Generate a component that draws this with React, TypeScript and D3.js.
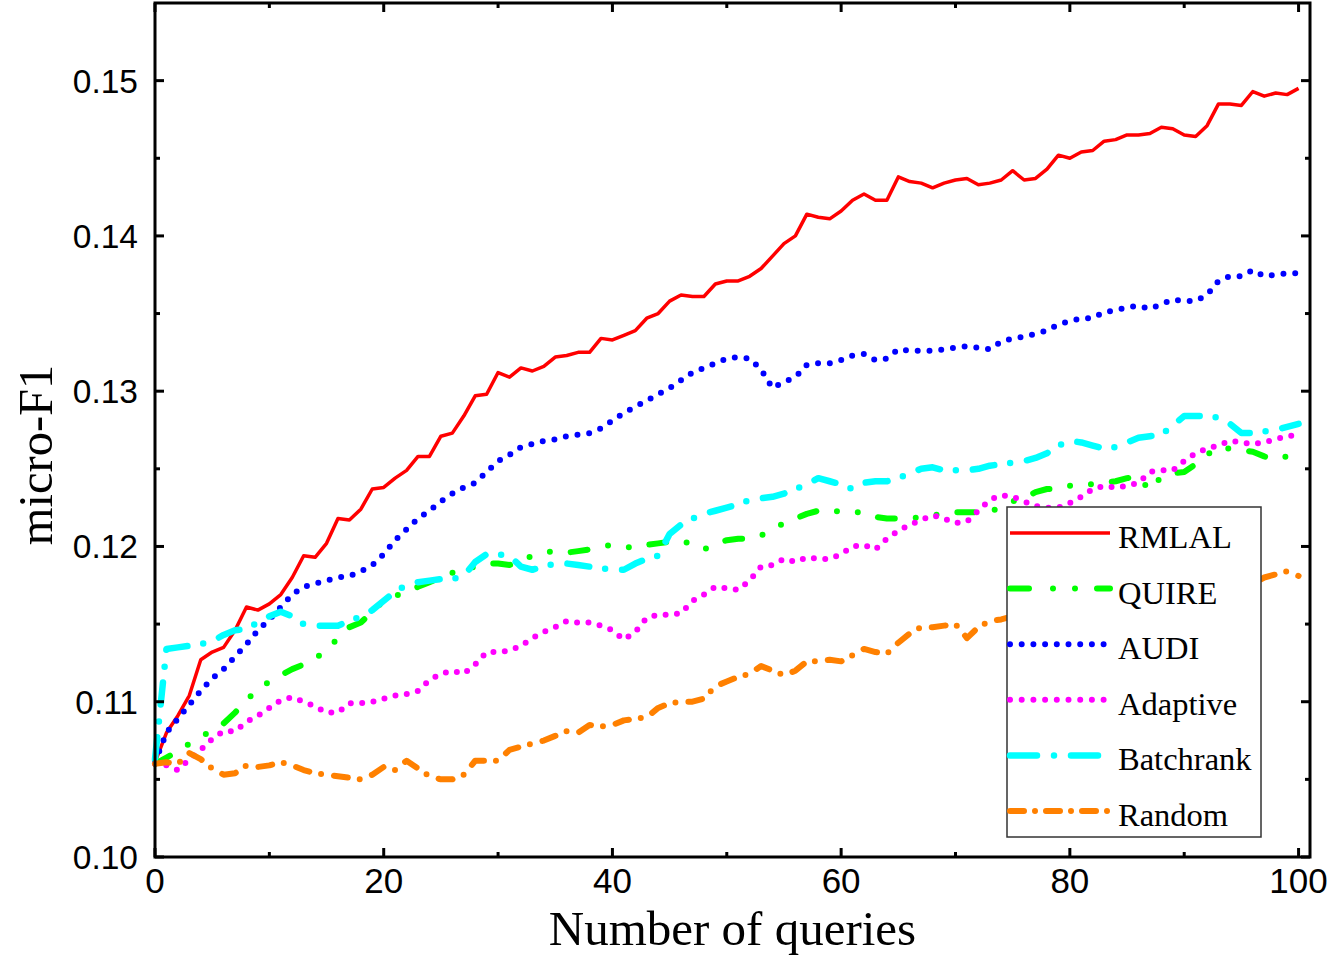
import React from "react";
import * as d3 from "d3";

const queries = d3.range(0, 101);

const rmlal = [0.1061,0.1080,0.1091,0.1104,0.1127,0.1132,0.1135,0.1146,0.1161,0.1159,0.1163,0.1169,0.1180,0.1194,0.1193,0.1202,0.1218,0.1217,0.1224,0.1237,0.1238,0.1244,0.1249,0.1258,0.1258,0.1271,0.1273,0.1284,0.1297,0.1298,0.1312,0.1309,0.1315,0.1313,0.1316,0.1322,0.1323,0.1325,0.1325,0.1334,0.1333,0.1336,0.1339,0.1347,0.1350,0.1358,0.1362,0.1361,0.1361,0.1369,0.1371,0.1371,0.1374,0.1379,0.1387,0.1395,0.1400,0.1414,0.1412,0.1411,0.1416,0.1423,0.1427,0.1423,0.1423,0.1438,0.1435,0.1434,0.1431,0.1434,0.1436,0.1437,0.1433,0.1434,0.1436,0.1442,0.1436,0.1437,0.1443,0.1452,0.1450,0.1454,0.1455,0.1461,0.1462,0.1465,0.1465,0.1466,0.1470,0.1469,0.1465,0.1464,0.1471,0.1485,0.1485,0.1484,0.1493,0.1490,0.1492,0.1491,0.1495];

const quire = [0.1060,0.1064,0.1068,0.1073,0.1077,0.1082,0.1086,0.1093,0.1101,0.1108,0.1113,0.1117,0.1121,0.1124,0.1128,0.1133,0.1141,0.1148,0.1151,0.1158,0.1165,0.1168,0.1171,0.1174,0.1177,0.1180,0.1183,0.1185,0.1187,0.1189,0.1189,0.1188,0.1191,0.1194,0.1196,0.1197,0.1196,0.1197,0.1198,0.1200,0.1201,0.1200,0.1199,0.1201,0.1202,0.1203,0.1204,0.1201,0.1198,0.1202,0.1204,0.1205,0.1205,0.1207,0.1211,0.1215,0.1218,0.1221,0.1223,0.1224,0.1222,0.1222,0.1222,0.1219,0.1218,0.1218,0.1218,0.1219,0.1220,0.1221,0.1222,0.1222,0.1222,0.1222,0.1226,0.1229,0.1231,0.1235,0.1237,0.1237,0.1239,0.1240,0.1240,0.1241,0.1242,0.1244,0.1245,0.1236,0.1245,0.1247,0.1248,0.1253,0.1259,0.1264,0.1263,0.1262,0.1261,0.1258,0.1256,0.1258,0.1257];

const audi = [0.1061,0.1080,0.1089,0.1098,0.1107,0.1115,0.1121,0.1129,0.1137,0.1146,0.1153,0.1161,0.1169,0.1174,0.1176,0.1178,0.1180,0.1181,0.1184,0.1188,0.1195,0.1204,0.1211,0.1218,0.1223,0.1229,0.1234,0.1238,0.1241,0.1248,0.1255,0.1259,0.1264,0.1266,0.1268,0.1269,0.1271,0.1272,0.1273,0.1276,0.1281,0.1286,0.1290,0.1294,0.1298,0.1302,0.1307,0.1312,0.1315,0.1318,0.1321,0.1322,0.1321,0.1314,0.1302,0.1306,0.1309,0.1317,0.1318,0.1318,0.1320,0.1323,0.1324,0.1320,0.1321,0.1327,0.1326,0.1326,0.1326,0.1327,0.1328,0.1329,0.1328,0.1327,0.1332,0.1334,0.1335,0.1337,0.1339,0.1343,0.1345,0.1347,0.1347,0.1351,0.1352,0.1354,0.1355,0.1353,0.1356,0.1359,0.1358,0.1358,0.1362,0.1371,0.1374,0.1374,0.1378,0.1374,0.1375,0.1376,0.1376];

const adaptive = [0.1060,0.1059,0.1056,0.1063,0.1069,0.1076,0.1081,0.1081,0.1087,0.1091,0.1096,0.1101,0.1103,0.1100,0.1097,0.1093,0.1093,0.1099,0.1099,0.1100,0.1102,0.1104,0.1105,0.1107,0.1114,0.1118,0.1120,0.1118,0.1124,0.1132,0.1132,0.1133,0.1136,0.1141,0.1145,0.1148,0.1152,0.1151,0.1151,0.1149,0.1146,0.1140,0.1145,0.1154,0.1156,0.1156,0.1157,0.1165,0.1169,0.1174,0.1173,0.1172,0.1178,0.1187,0.1188,0.1192,0.1190,0.1193,0.1192,0.1192,0.1195,0.1200,0.1201,0.1198,0.1205,0.1210,0.1214,0.1217,0.1220,0.1218,0.1215,0.1216,0.1223,0.1230,0.1233,0.1232,0.1229,0.1226,0.1225,0.1225,0.1228,0.1232,0.1237,0.1239,0.1238,0.1239,0.1241,0.1248,0.1249,0.1249,0.1255,0.1260,0.1263,0.1265,0.1268,0.1267,0.1266,0.1267,0.1269,0.1271,0.1272];

const batchrank = [0.1063,0.1134,0.1135,0.1136,0.1137,0.1139,0.1143,0.1146,0.1147,0.1151,0.1155,0.1158,0.1155,0.1150,0.1149,0.1149,0.1149,0.1152,0.1155,0.1159,0.1165,0.1171,0.1175,0.1177,0.1178,0.1179,0.1179,0.1181,0.1190,0.1195,0.1195,0.1194,0.1187,0.1185,0.1187,0.1189,0.1189,0.1188,0.1187,0.1186,0.1185,0.1185,0.1189,0.1192,0.1194,0.1208,0.1214,0.1218,0.1221,0.1223,0.1225,0.1227,0.1230,0.1231,0.1232,0.1234,0.1237,0.1240,0.1244,0.1242,0.1240,0.1237,0.1241,0.1242,0.1242,0.1244,0.1247,0.1250,0.1251,0.1249,0.1249,0.1249,0.1250,0.1252,0.1253,0.1254,0.1255,0.1257,0.1260,0.1265,0.1268,0.1267,0.1265,0.1263,0.1264,0.1267,0.1270,0.1271,0.1272,0.1278,0.1284,0.1284,0.1284,0.1283,0.1279,0.1273,0.1273,0.1274,0.1275,0.1277,0.1279];

const random = [0.1060,0.1061,0.1060,0.1067,0.1063,0.1057,0.1053,0.1054,0.1059,0.1058,0.1059,0.1061,0.1059,0.1056,0.1054,0.1053,0.1052,0.1051,0.1050,0.1053,0.1058,0.1056,0.1062,0.1057,0.1052,0.1050,0.1050,0.1053,0.1062,0.1062,0.1062,0.1069,0.1071,0.1073,0.1075,0.1078,0.1081,0.1080,0.1085,0.1084,0.1085,0.1088,0.1089,0.1090,0.1096,0.1099,0.1100,0.1100,0.1102,0.1110,0.1113,0.1116,0.1118,0.1123,0.1120,0.1117,0.1120,0.1126,0.1126,0.1127,0.1126,0.1130,0.1134,0.1132,0.1131,0.1138,0.1144,0.1148,0.1148,0.1149,0.1150,0.1141,0.1148,0.1152,0.1153,0.1155,0.1158,0.1157,0.1160,0.1162,0.1161,0.1163,0.1165,0.1164,0.1166,0.1168,0.1167,0.1169,0.1171,0.1170,0.1172,0.1173,0.1172,0.1174,0.1175,0.1174,0.1176,0.1180,0.1182,0.1184,0.1181];

const seriesNames = ["RMLAL", "QUIRE", "AUDI", "Adaptive", "Batchrank", "Random"];
const seriesValues = [rmlal, quire, audi, adaptive, batchrank, random];
const seriesColors = ["#ff0000", "#00ff00", "#0000ff", "#ff00ff", "#00ffff", "#ff8000"];
const seriesWidths = [3.5, 6, 6, 6, 6.5, 6];
const seriesDash = ["none", "17 21 0 21 0 21", "0 11.8", "0 11.4", "22 16 0 17", "14 12 0 13"];
const legendDash = ["none", "19 24 0 22 0 22", "0 11.7", "0 11.7", "27 17 0 17", "14 11 0 11"];

const xTicks = [0, 20, 40, 60, 80, 100];
const xMinor = [10, 30, 50, 70, 90];
const yTicks = [0.1, 0.11, 0.12, 0.13, 0.14, 0.15];
const yMinor = [0.105, 0.115, 0.125, 0.135, 0.145];

export default function App() {
  const W = 1338, H = 963;
  const L = 155, R = 1310, T = 3, B = 857;
  const x = d3.scaleLinear().domain([0, 101]).range([L, R]);
  const y = d3.scaleLinear().domain([0.1, 0.155]).range([B, T]);
  const line = d3.line<number>().x((_, i) => x(queries[i])).y((d) => y(d));

  const legX = 1007, legY = 507, legW = 254, legH = 330;
  const rowY = (i: number) => 533 + i * 55.6;

  return (
    <div style={{ position: "absolute", left: 0, top: 0 }}>
      <svg width={W} height={H} style={{ display: "block", background: "#fff" }}>
        <rect x={0} y={0} width={W} height={H} fill="#fff" />
        {seriesValues.map((vals, k) => (
          <path
            key={seriesNames[k]}
            d={line(vals) || ""}
            fill="none"
            stroke={seriesColors[k]}
            strokeWidth={seriesWidths[k]}
            strokeDasharray={seriesDash[k]}
            strokeLinecap={k === 0 ? "butt" : "round"}
            strokeLinejoin="round"
          />
        ))}
        <rect x={L} y={T} width={R - L} height={B - T} fill="none" stroke="#000" strokeWidth={3} />
        {xTicks.map((t) => (
          <g key={"xt" + t}>
            <line x1={x(t)} x2={x(t)} y1={B} y2={B - 9} stroke="#000" strokeWidth={3} />
            <line x1={x(t)} x2={x(t)} y1={T} y2={T + 9} stroke="#000" strokeWidth={3} />
            <text x={x(t)} y={893} textAnchor="middle" fontFamily="'Liberation Sans', Arial, sans-serif" fontSize={35}>{t}</text>
          </g>
        ))}
        {xMinor.map((t) => (
          <g key={"xm" + t}>
            <line x1={x(t)} x2={x(t)} y1={B} y2={B - 5} stroke="#000" strokeWidth={3} />
            <line x1={x(t)} x2={x(t)} y1={T} y2={T + 5} stroke="#000" strokeWidth={3} />
          </g>
        ))}
        {yTicks.map((t) => (
          <g key={"yt" + t}>
            <line x1={L} x2={L + 9} y1={y(t)} y2={y(t)} stroke="#000" strokeWidth={3} />
            <line x1={R} x2={R - 9} y1={y(t)} y2={y(t)} stroke="#000" strokeWidth={3} />
            <text x={138} y={y(t) + 12} textAnchor="end" fontFamily="'Liberation Sans', Arial, sans-serif" fontSize={33.5}>{t.toFixed(2)}</text>
          </g>
        ))}
        {yMinor.map((t) => (
          <g key={"ym" + t}>
            <line x1={L} x2={L + 5} y1={y(t)} y2={y(t)} stroke="#000" strokeWidth={3} />
            <line x1={R} x2={R - 5} y1={y(t)} y2={y(t)} stroke="#000" strokeWidth={3} />
          </g>
        ))}
        <text x={(L + R) / 2} y={945} textAnchor="middle" fontFamily="'Liberation Serif', 'Times New Roman', serif" fontSize={49}>Number of queries</text>
        <text transform={`translate(52, ${(T + B) / 2 + 25}) rotate(-90)`} textAnchor="middle" fontFamily="'Liberation Serif', 'Times New Roman', serif" fontSize={48.5}>micro-F1</text>
        <rect x={legX} y={legY} width={legW} height={legH} fill="#fff" stroke="#333" strokeWidth={1.5} />
        {seriesNames.map((n, k) => (
          <g key={"lg" + n}>
            <line
              x1={legX + 3}
              x2={legX + 103}
              y1={rowY(k)}
              y2={rowY(k)}
              stroke={seriesColors[k]}
              strokeWidth={seriesWidths[k]}
              strokeDasharray={legendDash[k]}
              strokeLinecap={k === 0 ? "butt" : "round"}
            />
            <text x={legX + 111} y={rowY(k) + 15} fontFamily="'Liberation Serif', 'Times New Roman', serif" fontSize={32.5}>{n}</text>
          </g>
        ))}
      </svg>
    </div>
  );
}
